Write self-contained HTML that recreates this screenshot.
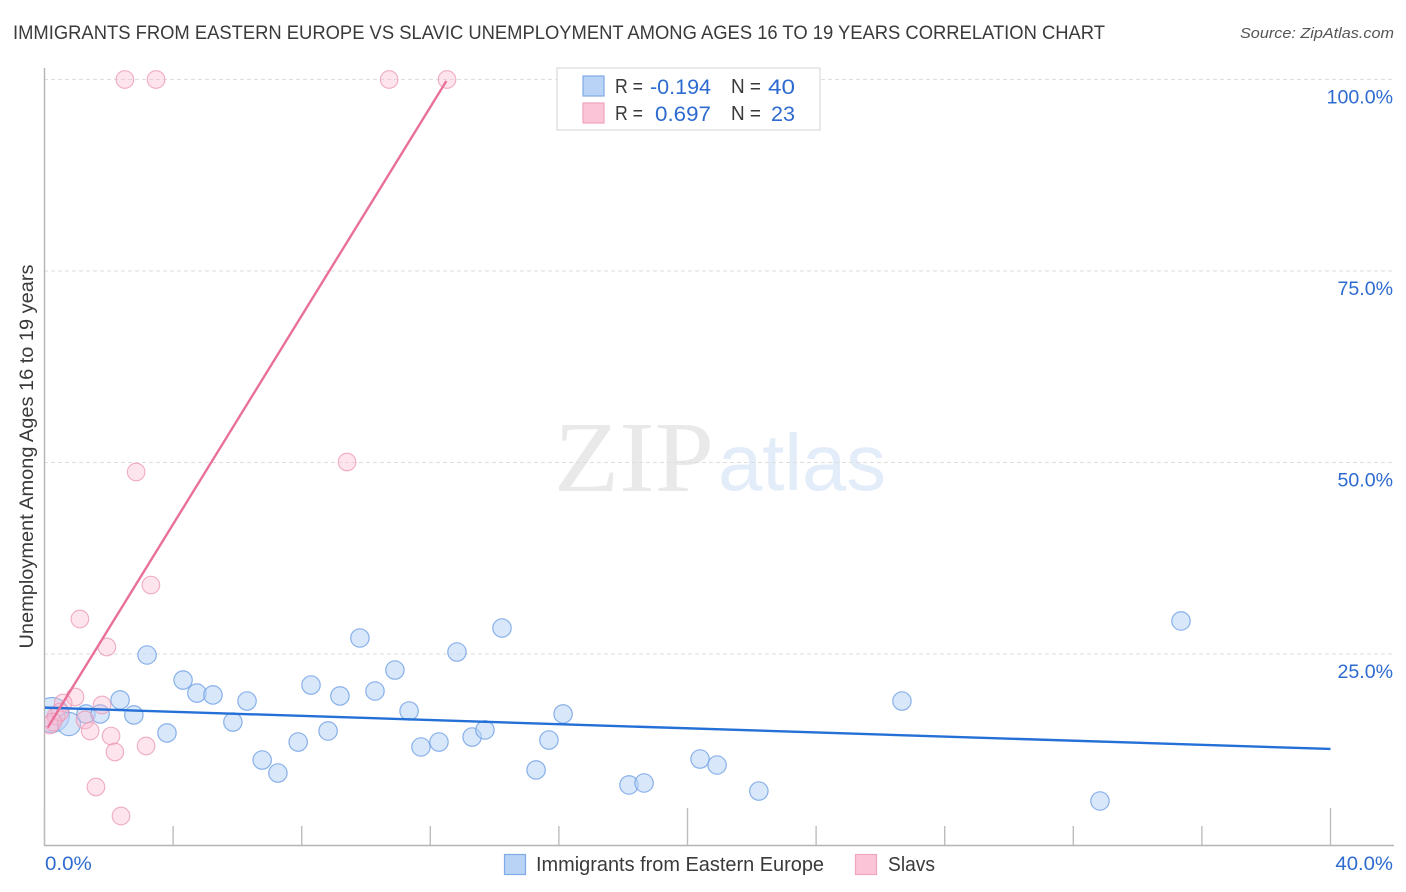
<!DOCTYPE html>
<html>
<head>
<meta charset="utf-8">
<style>
html,body{margin:0;padding:0;background:#fff;}
svg{display:block;font-family:"Liberation Sans",sans-serif;}
</style>
</head>
<body>
<svg id="chart" width="1406" height="892" viewBox="0 0 1406 892" xmlns="http://www.w3.org/2000/svg">
  <defs><clipPath id="plot-clip"><rect x="45" y="60" width="1350" height="785"/></clipPath></defs>
  <rect width="1406" height="892" fill="#fff"/>
  <text x="13" y="39" font-size="19.5" fill="#3a3a3a" textLength="1092" lengthAdjust="spacingAndGlyphs">IMMIGRANTS FROM EASTERN EUROPE VS SLAVIC UNEMPLOYMENT AMONG AGES 16 TO 19 YEARS CORRELATION CHART</text>
  <text x="1394" y="38" font-size="15" font-style="italic" fill="#555" text-anchor="end" textLength="154" lengthAdjust="spacingAndGlyphs">Source: ZipAtlas.com</text>
  <g>
    <text x="554" y="491" font-family="'Liberation Serif',serif" font-size="101" fill="#e9e9e9" textLength="160" lengthAdjust="spacingAndGlyphs">ZIP</text>
    <text x="718" y="490" font-size="80" fill="#e3ecf9" textLength="168" lengthAdjust="spacingAndGlyphs">atlas</text>
  </g>
  <g id="grid"></g>
  <g id="axes"></g>
  <g id="marks" clip-path="url(#plot-clip)"></g>
  <g id="labels"></g>
  <text transform="translate(33,456.5) rotate(-90)" font-size="19" fill="#3a3a3a" text-anchor="middle" textLength="384" lengthAdjust="spacingAndGlyphs">Unemployment Among Ages 16 to 19 years</text>
  <g>
    <rect x="557" y="68" width="263" height="62" fill="#fff" stroke="#ddd" stroke-width="1.3"/>
    <rect x="583" y="76" width="21" height="20" fill="#b9d3f7" stroke="#7fabe6" stroke-width="1.2"/>
    <rect x="583" y="103" width="21" height="20" fill="#fcc5d7" stroke="#f0a5bf" stroke-width="1.2"/>
    <g font-size="20" fill="#3a3a3a">
      <text x="615" y="93" textLength="28" lengthAdjust="spacingAndGlyphs">R =</text>
      <text x="731" y="93" textLength="30" lengthAdjust="spacingAndGlyphs">N =</text>
      <text x="615" y="120" textLength="28" lengthAdjust="spacingAndGlyphs">R =</text>
      <text x="731" y="120" textLength="30" lengthAdjust="spacingAndGlyphs">N =</text>
    </g>
    <g font-size="21" fill="#2e6bd0">
      <text x="650" y="94" textLength="61" lengthAdjust="spacingAndGlyphs">-0.194</text>
      <text x="768" y="94" textLength="27" lengthAdjust="spacingAndGlyphs">40</text>
      <text x="655" y="121" textLength="56" lengthAdjust="spacingAndGlyphs">0.697</text>
      <text x="771" y="121" textLength="24" lengthAdjust="spacingAndGlyphs">23</text>
    </g>
  </g>
  <g>
    <rect x="504.500" y="854.500" width="21" height="20" fill="#b9d3f7" stroke="#7fabe6" stroke-width="1.2"/>
    <text x="536" y="871" font-size="20" fill="#3a3a3a" textLength="288" lengthAdjust="spacingAndGlyphs">Immigrants from Eastern Europe</text>
    <rect x="855.500" y="854.500" width="21" height="20" fill="#fcc5d7" stroke="#f0a5bf" stroke-width="1.2"/>
    <text x="888" y="871" font-size="20" fill="#3a3a3a" textLength="47" lengthAdjust="spacingAndGlyphs">Slavs</text>
  </g>
</svg>
<script>
// Chart data (percent units)
const immigrantsX = [0.23,0.76,1.29,1.73,2.35,2.78,3.19,3.81,4.31,4.74,5.24,5.86,6.30,6.77,7.26,7.89,8.29,8.82,9.19,9.81,10.28,10.90,11.34,11.71,12.27,12.83,13.30,13.70,14.23,15.29,15.69,16.13,18.18,18.65,20.39,20.92,22.22,26.67,32.83,35.35];
const immigrantsY = [17.04,15.86,17.17,17.17,19.0,17.04,24.87,14.69,21.6,19.9,19.65,16.12,18.86,11.16,9.46,13.51,20.95,14.95,19.52,27.09,20.17,22.91,17.56,12.86,13.51,25.26,14.16,15.08,28.39,9.86,13.77,17.17,7.9,8.16,11.29,10.51,7.11,18.86,5.81,29.31];
const immigrantsWeight = [3.6,1.6,1,1,1,1,1,1,1,1,1,1,1,1,1,1,1,1,1,1,1,1,1,1,1,1,1,1,1,1,1,1,1,1,1,1,1,1,1,1];
const slavsX = [2.50,3.47,10.72,12.52,9.41,2.85,3.31,1.10,1.94,0.95,0.58,1.79,1.26,1.42,2.07,2.19,3.16,1.60,2.38,0.17,0.36,0.48,0.26];
const slavsY = [100,100,100,100,50.07,48.76,34.0,29.57,25.91,19.39,18.6,18.34,16.38,14.95,14.29,12.21,12.99,7.64,3.85,15.73,16.9,17.43,16.12];
const immigrantsTrendX = [0,40];
const immigrantsTrendY = [18.0,12.6];
const slavsTrendX = [0.1,12.5];
const slavsTrendY = [15.4,99.8];
const yTicks = [25,50,75,100];
const yTickLabels = ["25.0%","50.0%","75.0%","100.0%"];
const xTicks = [0,4,8,12,16,20,24,28,32,36,40];
const xMajorTicks = [0,20,40];
const xEdgeLabels = ["0.0%","40.0%"];

const NS = "http://www.w3.org/2000/svg";
const xScale = function (v) { return 44.5 + v * 32.15; };
const yScale = function (v) { return 845.5 - v * 7.66; };

function make(parent, tag, attrs, text) {
  const el = document.createElementNS(NS, tag);
  for (const k in attrs) el.setAttribute(k, attrs[k]);
  if (text !== undefined) el.textContent = text;
  parent.appendChild(el);
  return el;
}
function stretch(el, factor) {
  el.setAttribute("textLength", (el.getComputedTextLength() * factor).toFixed(1));
  el.setAttribute("lengthAdjust", "spacingAndGlyphs");
}

const grid = document.getElementById("grid");
const axes = document.getElementById("axes");
const marks = document.getElementById("marks");
const labels = document.getElementById("labels");

yTicks.forEach(function (t, i) {
  const line = make(grid, "line", {x1: 44, x2: 1394, y1: yScale(t), y2: yScale(t), stroke: "#dedede", "stroke-width": 1, "stroke-dasharray": "4 3"});
  
  
  const label = make(labels, "text", {x: 1393, y: yScale(t) + 24, "text-anchor": "end", "font-size": 19, fill: "#2e6bd0"}, yTickLabels[i]);
  
  
  stretch(label, 1.03);
});

const yAxis = make(axes, "line", {x1: 44.5, x2: 44.5, y1: 68, y2: 846, stroke: "#b4b4b4", "stroke-width": 1.4});


const xAxis = make(axes, "line", {x1: 44, x2: 1394, y1: 845.5, y2: 845.5, stroke: "#b4b4b4", "stroke-width": 1.4});



xTicks.forEach(function (t) {
  const top = xMajorTicks.indexOf(t) >= 0 ? 808 : 826;
  const tick = make(axes, "line", {x1: xScale(t), x2: xScale(t), y1: top, y2: 845, stroke: "#bdbdbd", "stroke-width": 1.4});
  
  
});

const xLabelLeft = make(labels, "text", {x: 45, y: 870, "font-size": 19, fill: "#2e6bd0"}, xEdgeLabels[0]);


stretch(xLabelLeft, 1.08);
const xLabelRight = make(labels, "text", {x: 1393, y: 870, "text-anchor": "end", "font-size": 19, fill: "#2e6bd0"}, xEdgeLabels[1]);


stretch(xLabelRight, 1.07);

immigrantsX.forEach(function (v, i) {
  const c = make(marks, "circle", {cx: xScale(v), cy: yScale(immigrantsY[i]), r: 9.2 * Math.sqrt(immigrantsWeight[i]), fill: "#b9d3f7", "fill-opacity": 0.55, stroke: "#6fa0e4", "stroke-opacity": 0.8, "stroke-width": 1.2});
  
  
});

slavsX.forEach(function (v, i) {
  const c = make(marks, "circle", {cx: xScale(v), cy: yScale(slavsY[i]), r: 8.8, fill: "#fbb9cf", "fill-opacity": 0.38, stroke: "#eb9ab6", "stroke-opacity": 0.8, "stroke-width": 1.1});
  
  
});

const blueTrend = make(marks, "line", {x1: xScale(immigrantsTrendX[0]), y1: yScale(immigrantsTrendY[0]), x2: xScale(immigrantsTrendX[1]), y2: yScale(immigrantsTrendY[1]), stroke: "#2470d6", "stroke-width": 2.4});


const pinkTrend = make(marks, "line", {x1: xScale(slavsTrendX[0]), y1: yScale(slavsTrendY[0]), x2: xScale(slavsTrendX[1]), y2: yScale(slavsTrendY[1]), stroke: "#e8709a", "stroke-width": 2.4});


</script>
</body>
</html>
